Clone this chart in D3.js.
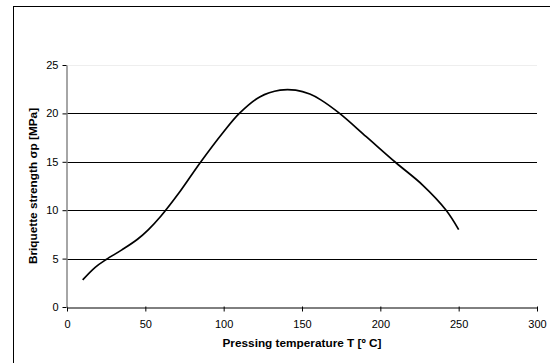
<!DOCTYPE html>
<html>
<head>
<meta charset="utf-8">
<script src="https://cdn.jsdelivr.net/npm/d3@7"></script>
<style>
  body { margin: 0; background: #fff; }
  text { font-family: "Liberation Sans", Arial, sans-serif; }
</style>
</head>
<body>
<svg id="chart" width="550" height="363"></svg>
<script>
// data
const temperature = [10, 18, 25, 35, 45, 52, 60, 72, 85, 100, 110, 123, 136, 146, 155, 162, 174, 191, 210, 227, 242, 250];
const strength = [2.8, 4.1, 4.9, 5.9, 7.0, 8.0, 9.4, 11.9, 14.9, 18.1, 20.0, 21.7, 22.4, 22.4, 22.0, 21.4, 20.0, 17.6, 14.9, 12.6, 10.0, 8.0];
const x_ticks = [0, 50, 100, 150, 200, 250, 300];
const y_ticks = [0, 5, 10, 15, 20, 25];

const svg = d3.select('#chart');

// outer frame (runs off the page right and bottom)
svg.append('rect')
  .attr('x', 13.5).attr('y', 6.5)
  .attr('width', 600).attr('height', 400)
  .attr('fill', 'none').attr('stroke', '#000').attr('stroke-width', 1);

const area = { left: 67, right: 537, top: 65, bottom: 307 };

const x = d3.scaleLinear().domain([0, 300]).range([area.left, area.right]);
const y = d3.scaleLinear().domain([0, 25]).range([area.bottom, area.top]);

// gridlines
svg.append('g')
  .selectAll('line')
  .data(y_ticks.filter(d => d > 0))
  .enter()
  .append('line')
  .attr('x1', area.left).attr('x2', area.right)
  .attr('y1', d => Math.round(y(d)) + 0.5)
  .attr('y2', d => Math.round(y(d)) + 0.5)
  .attr('stroke', d => d === 25 ? '#eee' : '#000')
  .attr('stroke-width', 1);

// x axis
const xAxis = svg.append('g')
  .attr('transform', `translate(0,${area.bottom + 0.5})`)
  .call(d3.axisBottom(x).tickValues(x_ticks).tickSize(4).tickPadding(9).tickSizeOuter(0));
xAxis.select('.domain').attr('stroke', '#000');
xAxis.selectAll('.tick line').attr('stroke', '#000').attr('y1', -1);
xAxis.selectAll('text').attr('font-size', 11).attr('fill', '#000');

// y axis
const yAxis = svg.append('g')
  .attr('transform', `translate(${area.left - 0.5},0)`)
  .call(d3.axisLeft(y).tickValues(y_ticks).tickSize(4).tickPadding(4).tickSizeOuter(0));
yAxis.select('.domain').attr('stroke', '#888').attr('stroke-width', 1.5);
yAxis.selectAll('.tick line').attr('stroke', '#000');
yAxis.selectAll('text').attr('font-size', 11).attr('fill', '#000');

// curve
const line = d3.line()
  .x(d => x(d[0]))
  .y(d => y(d[1]))
  .curve(d3.curveCatmullRom);

svg.append('path')
  .datum(d3.zip(temperature, strength))
  .attr('d', line)
  .attr('fill', 'none')
  .attr('stroke', '#000')
  .attr('stroke-width', 1.7);

// axis titles
svg.append('text')
  .attr('x', (area.left + area.right) / 2)
  .attr('y', 347)
  .attr('text-anchor', 'middle')
  .attr('font-size', 11.8)
  .attr('font-weight', 'bold')
  .text('Pressing temperature T [º C]');

svg.append('text')
  .attr('transform', `translate(37,${(area.top + area.bottom) / 2}) rotate(-90)`)
  .attr('text-anchor', 'middle')
  .attr('font-size', 11.8)
  .attr('font-weight', 'bold')
  .text('Briquette strength σp [MPa]');
</script>
</body>
</html>
